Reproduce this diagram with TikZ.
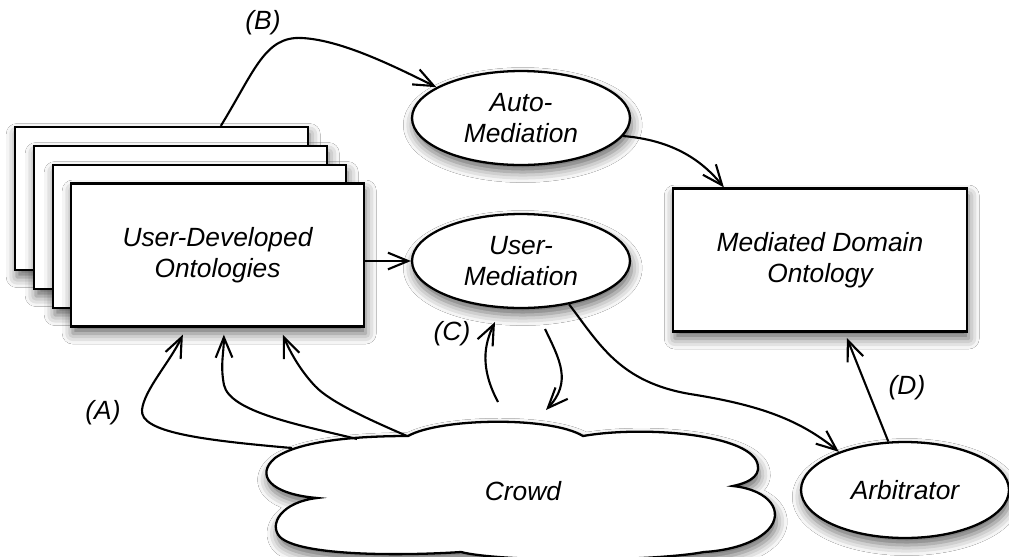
\documentclass[tikz,border=0pt]{standalone}
\usepackage{fontspec}
\setmainfont{Liberation Sans}
\usetikzlibrary{arrows.meta,shapes.geometric,shadows.blur,calc}

\begin{document}
\begin{tikzpicture}[x=0.02cm,y=-0.02cm,
  txt/.style={font=\fontsize{15}{18}\selectfont\itshape, align=center},
  shd/.style={blur shadow={shadow xshift=1pt,shadow yshift=-4pt,shadow blur radius=6pt,shadow opacity=60}},
  card/.style={draw, line width=1.3pt, fill=white, shd, minimum width=5.86cm, minimum height=2.86cm, inner sep=0pt, txt},
  oval/.style={ellipse, draw, line width=1.3pt, fill=white, shd, inner sep=0pt, txt},
  arr/.style={line width=1.2pt, -{Straight Barb[length=11.5pt,width=9.5pt]}},
  lbl/.style={txt}]
\fill[white] (0,0) rectangle (1009,556);
\useasboundingbox (0,0) rectangle (1009,556);

% stack of user-developed ontologies
\node[card] (back1) at (161.5,198.5) {};
\node[card] (back2) at (180.5,217.5) {};
\node[card] (back3) at (199.5,236.5) {};
\node[card] (ud) at (217.5,255) {User-Developed\\Ontologies};

% mediation steps and result
\node[oval, minimum width=4.36cm, minimum height=1.88cm] (am) at (521,118) {Auto-\\Mediation};
\node[oval, minimum width=4.36cm, minimum height=1.88cm] (um) at (521,261) {User-\\Mediation};
\node[card, minimum width=5.88cm] (md) at (820,260) {Mediated Domain\\Ontology};
\node[oval, minimum width=4.16cm, minimum height=1.92cm] (arb) at (905,490) {Arbitrator};

% the crowd
\path[draw, fill=white, shd, line width=1.3pt]
  (317,498) .. controls (270,494) and (255,475) .. (275,458)
  .. controls (300,440) and (360,436) .. (408,436)
  .. controls (440,418) and (550,416) .. (583,436)
  .. controls (640,426) and (740,433) .. (756,460)
  .. controls (763,474) and (752,482) .. (733,486)
  .. controls (770,490) and (785,512) .. (768,530)
  .. controls (752,546) and (722,551) .. (704,552)
  .. controls (650,562) and (500,562) .. (461,552)
  .. controls (400,556) and (300,556) .. (280,537)
  .. controls (268,524) and (282,502) .. (317,498) -- cycle;
\node[txt] (crowd) at (523,491) {Crowd};

% anchor points on the crowd and between nodes
\coordinate (c1) at (292,448);
\coordinate (c2) at (357,439);
\coordinate (c3) at (407,436);
\coordinate (cu) at (498,402);
\coordinate (cd) at (546,410);
\coordinate (mu) at (495,322);
\coordinate (md0) at (545,329);

% (A) crowd feeds the user ontologies
\draw[arr] (c1) .. controls (200,440) and (140,432) .. (142,410)
  .. controls (144,390) and (170,362) .. ([xshift=2.26cm,yshift=-4pt]ud.south west);
\draw[arr] (c2) .. controls (300,425) and (230,412) .. (224,385)
  .. controls (220,365) and (224,352) .. ([xshift=3.08cm,yshift=-4pt]ud.south west);
\draw[arr] (c3) .. controls (370,420) and (330,402) .. (315,386)
  .. controls (300,370) and (290,352) .. ([xshift=4.26cm,yshift=-4pt]ud.south west);

% (B) automatic mediation
\draw[arr] ([xshift=4.14cm]back1.north west) .. controls (255,70) and (265,36) .. (302,38)
  .. controls (340,40) and (390,64) .. (am.160);
\draw[arr] (am.-10) .. controls (670,140) and (700,158) .. ([xshift=1.04cm]md.north west);

% user mediation
\draw[arr] (um.west -| ud.east) -- (um.west);

% (C) crowd and user mediation
\draw[arr] (cu) .. controls (480,368) and (484,345) .. (mu);
\draw[arr] (md0) .. controls (560,360) and (572,382) .. (cd);

% (D) arbitration
\draw[arr] (um.-42) .. controls (600,345) and (620,382) .. (690,394)
  .. controls (760,405) and (800,420) .. (arb.150);
\draw[arr] (arb.109) -- ([xshift=3.5cm,yshift=-3pt]md.south west);

% labels
\node[lbl] (lA) at (103,413) {(A)};
\node[lbl] (lB) at (263,23) {(B)};
\node[lbl] (lC) at (452,334) {(C)};
\node[lbl] (lD) at (907,388) {(D)};
\end{tikzpicture}
\end{document}
